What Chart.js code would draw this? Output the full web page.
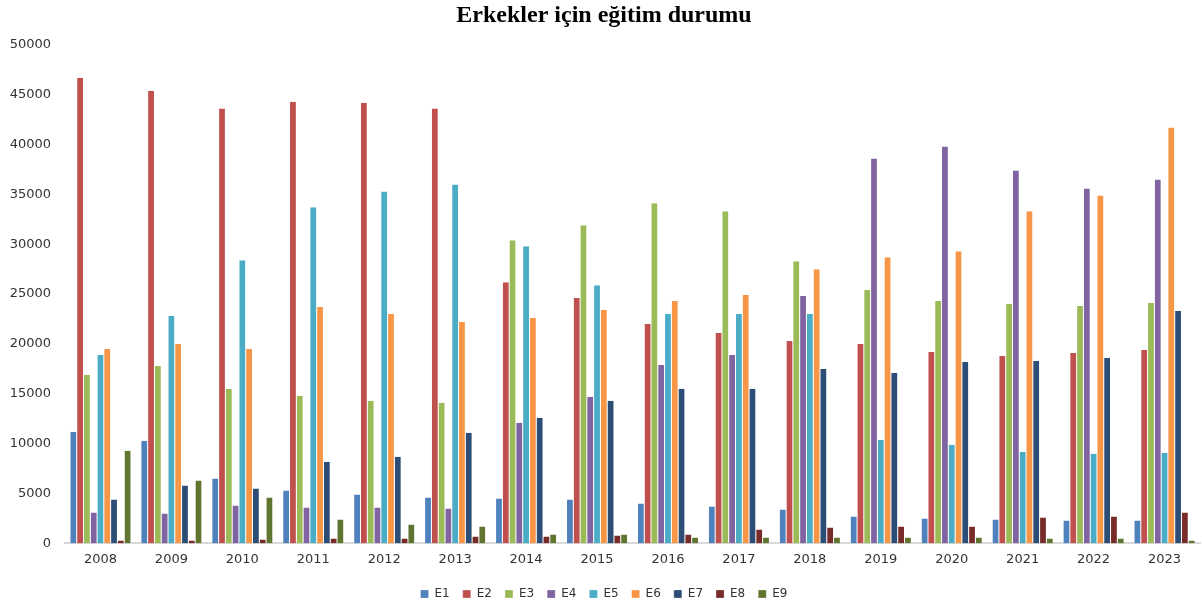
<!DOCTYPE html>
<html>
<head>
<meta charset="utf-8">
<script src="https://cdn.jsdelivr.net/npm/chart.js@4"></script>
<style>
  html, body { margin: 0; padding: 0; background: #fff; }
  #wrap { width: 1202px; height: 605px; }
</style>
</head>
<body>
<div id="wrap"><canvas id="myChart" width="1202" height="605"></canvas></div>
<script>
const years = ['2008', '2009', '2010', '2011', '2012', '2013', '2014', '2015', '2016', '2017', '2018', '2019', '2020', '2021', '2022', '2023'];

const e1 = [11200, 10300, 6500, 5300, 4900, 4600, 4500, 4400, 4000, 3700, 3400, 2700, 2500, 2400, 2300, 2300];
const e2 = [46700, 45400, 43600, 44300, 44200, 43600, 26200, 24600, 22000, 21100, 20300, 20000, 19200, 18800, 19100, 19400];
const e3 = [16900, 17800, 15500, 14800, 14300, 14100, 30400, 31900, 34100, 33300, 28300, 25400, 24300, 24000, 23800, 24100];
const e4 = [3100, 3000, 3800, 3600, 3600, 3500, 12100, 14700, 17900, 18900, 24800, 38600, 39800, 37400, 35600, 36500];
const e5 = [18900, 22800, 28400, 33700, 35300, 36000, 29800, 25900, 23000, 23000, 23000, 10400, 9900, 9200, 9000, 9100];
const e6 = [19500, 20000, 19500, 23700, 23000, 22200, 22600, 23400, 24300, 24900, 27500, 28700, 29300, 33300, 34900, 41700];
const e7 = [4400, 5800, 5500, 8200, 8700, 11100, 12600, 14300, 15500, 15500, 17500, 17100, 18200, 18300, 18600, 23300];
const e8 = [300, 300, 400, 500, 500, 700, 700, 800, 900, 1400, 1600, 1700, 1700, 2600, 2700, 3100];
const e9 = [9300, 6300, 4600, 2400, 1900, 1700, 900, 900, 600, 600, 600, 600, 600, 500, 500, 300];

const yTicks = [0, 5000, 10000, 15000, 20000, 25000, 30000, 35000, 40000, 45000, 50000];

const seriesNames = ['E1', 'E2', 'E3', 'E4', 'E5', 'E6', 'E7', 'E8', 'E9'];
const seriesData = [e1, e2, e3, e4, e5, e6, e7, e8, e9];
const colors = ['#4F81BD', '#C0504D', '#9BBB59', '#8064A2', '#4BACC6', '#F79646', '#2C4D75', '#772C2A', '#5F7530'];

const datasets = seriesNames.map((name, i) => ({
    label: name,
    data: seriesData[i],
    backgroundColor: colors[i],
    borderColor: '#ffffff',
    borderWidth: { left: 0.5, right: 0.5, top: 0, bottom: 0 },
    categoryPercentage: 0.86,
    barPercentage: 1.0
}));

const config = {
    type: 'bar',
    data: { labels: years, datasets: datasets },
    options: {
        responsive: false,
        animation: false,
        layout: { padding: { left: 8, right: 2, top: 0, bottom: -5 } },
        plugins: {
            title: {
                display: true,
                text: 'Erkekler için eğitim durumu',
                font: { family: 'Liberation Serif', size: 24, weight: 'bold' },
                color: '#000',
                padding: { top: 1, bottom: 15 }
            },
            legend: {
                position: 'bottom',
                labels: {
                    boxWidth: 8,
                    boxHeight: 8,
                    padding: 13,
                    color: '#333',
                    font: { family: 'DejaVu Sans', size: 12 }
                }
            },
            tooltip: { enabled: false }
        },
        scales: {
            y: {
                min: 0,
                max: 50000,
                afterBuildTicks: (axis) => { axis.ticks = yTicks.map(v => ({ value: v })); },
                afterFit: (axis) => { axis.width = 57; },
                grid: { display: false, drawTicks: false },
                border: { display: false },
                ticks: {
                    color: '#333',
                    padding: 14,
                    font: { family: 'DejaVu Sans', size: 13 },
                    callback: (v) => String(v)
                }
            },
            x: {
                grid: { display: false, drawTicks: false },
                border: { display: true, color: '#d9d9d9', width: 2 },
                ticks: {
                    color: '#333',
                    padding: 8,
                    font: { family: 'DejaVu Sans', size: 13 }
                }
            }
        }
    }
};

new Chart(document.getElementById('myChart').getContext('2d'), config);
</script>
</body>
</html>
